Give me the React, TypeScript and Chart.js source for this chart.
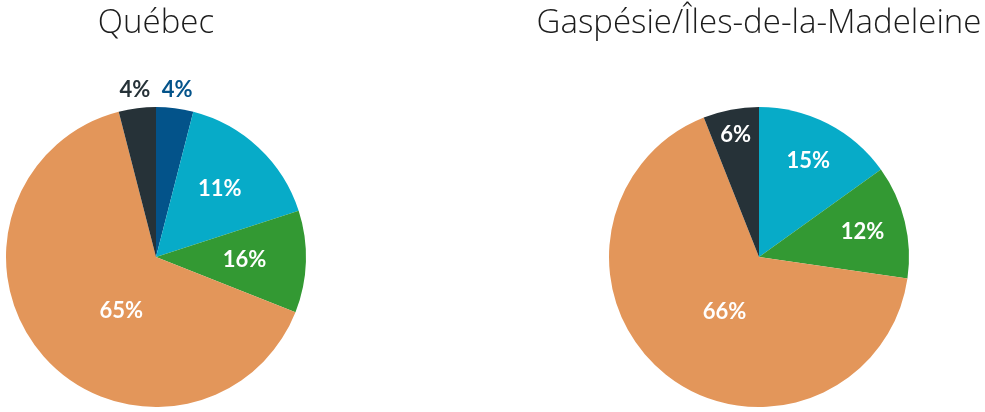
import React, { useEffect, useRef } from "react";
import { Chart, registerables } from "chart.js";

Chart.register(...registerables);

const categories = ["Catégorie A", "Catégorie B", "Catégorie C", "Catégorie D", "Catégorie E"];
const sliceColors = ["#03538a", "#07abc8", "#339933", "#e3965a", "#263238"];

const quebecTitle = "Québec";
const quebecValues = [4, 16, 11, 65, 4];
const quebecLabels = ["4%", "11%", "16%", "65%", "4%"];

const gaspesieTitle = "Gaspésie/Îles-de-la-Madeleine";
const gaspesieValues = [0, 15.1, 12.2, 66.7, 6];
const gaspesieLabels = ["", "15%", "12%", "66%", "6%"];

type LabelCfg = { texts: string[]; radius: number[]; angleShift: number[] };

const sliceLabelPlugin = {
  id: "sliceLabels",
  afterDatasetsDraw(chart: any, _args: any, opts: LabelCfg) {
    const meta = chart.getDatasetMeta(0);
    const ctx = chart.ctx;
    ctx.save();
    ctx.font = "bold 22px Lato";
    ctx.textAlign = "center";
    ctx.textBaseline = "middle";
    meta.data.forEach((arc: any, i: number) => {
      const text = opts.texts[i];
      if (!text) return;
      const p = arc.getProps(["x", "y", "startAngle", "endAngle", "outerRadius"], true);
      const mid = (p.startAngle + p.endAngle) / 2 + (opts.angleShift[i] * Math.PI) / 180;
      const f = opts.radius[i];
      const r = p.outerRadius * f;
      const x = p.x + Math.cos(mid) * r;
      const y = p.y + Math.sin(mid) * r;
      ctx.fillStyle = f > 1 ? sliceColors[i] : "#ffffff";
      ctx.fillText(text, x, y);
    });
    ctx.restore();
  },
};

function PieChart(props: {
  title: string;
  values: number[];
  labels: LabelCfg;
  left: number;
  width: number;
  padX: number;
}) {
  const ref = useRef<HTMLCanvasElement>(null);
  useEffect(() => {
    if (!ref.current) return;
    const chart = new Chart(ref.current, {
      type: "pie",
      data: {
        labels: categories,
        datasets: [
          {
            data: props.values,
            backgroundColor: sliceColors,
            borderWidth: 0,
          },
        ],
      },
      options: {
        responsive: false,
        animation: false,
        layout: { padding: { left: props.padX, right: props.padX, top: 0, bottom: 5 } },
        plugins: {
          legend: { display: false },
          tooltip: { enabled: false },
          title: {
            display: true,
            text: props.title,
            color: "#1c1c1c",
            font: { family: "'Open Sans'", size: 33, weight: "300" as any, lineHeight: 1.2 },
            padding: { top: 4, bottom: 63.4 },
          },
          sliceLabels: props.labels as any,
        } as any,
      },
      plugins: [sliceLabelPlugin],
    });
    return () => chart.destroy();
  }, []);
  return (
    <canvas
      ref={ref}
      width={props.width}
      height={412}
      style={{ position: "absolute", left: props.left, top: 0, width: props.width, height: 412 }}
    />
  );
}

export default function App() {
  return (
    <div style={{ position: "fixed", left: 0, top: 0, width: 985, height: 412, background: "#fff", overflow: "hidden" }}>
      <PieChart
        title={quebecTitle}
        values={quebecValues}
        left={0}
        width={312}
        padX={6}
        labels={{ texts: quebecLabels, radius: [1.12, 0.62, 0.59, 0.43, 1.12], angleShift: [0, 0, 0, -16, 0] }}
      />
      <PieChart
        title={gaspesieTitle}
        values={gaspesieValues}
        left={533}
        width={452}
        padX={0}
        labels={{ texts: gaspesieLabels, radius: [0, 0.72, 0.71, 0.43, 0.83], angleShift: [0, 0, 0, -6, 0] }}
      />
    </div>
  );
}
